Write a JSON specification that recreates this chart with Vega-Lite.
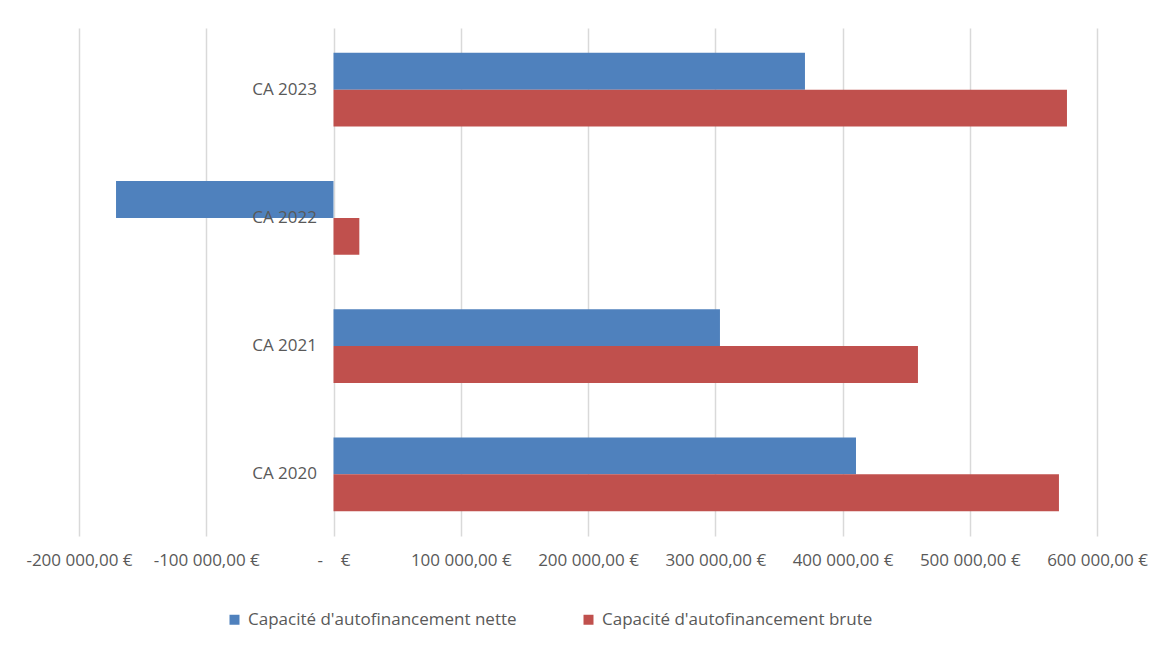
{
  "$schema": "https://vega.github.io/schema/vega-lite/v6.json",
  "autosize": "none",
  "width": 1018,
  "height": 508,
  "padding": {"left": 79, "top": 28, "right": 57, "bottom": 128},
  "background": "white",
  "config": {
    "font": "Open Sans",
    "view": {"stroke": null}
  },
  "data": {
    "values": [
      {"annee": "CA 2023", "serie": "Capacité d'autofinancement nette", "montant": 370500},
      {"annee": "CA 2023", "serie": "Capacité d'autofinancement brute", "montant": 576400},
      {"annee": "CA 2022", "serie": "Capacité d'autofinancement nette", "montant": -170900},
      {"annee": "CA 2022", "serie": "Capacité d'autofinancement brute", "montant": 20300},
      {"annee": "CA 2021", "serie": "Capacité d'autofinancement nette", "montant": 303700},
      {"annee": "CA 2021", "serie": "Capacité d'autofinancement brute", "montant": 459300},
      {"annee": "CA 2020", "serie": "Capacité d'autofinancement nette", "montant": 410600},
      {"annee": "CA 2020", "serie": "Capacité d'autofinancement brute", "montant": 570100}
    ]
  },
  "mark": {"type": "bar"},
  "encoding": {
    "x": {
      "field": "montant",
      "type": "quantitative",
      "scale": {"domain": [-200000, 600000], "nice": false, "zero": false},
      "axis": {
        "title": null,
        "values": [-200000, -100000, 0, 100000, 200000, 300000, 400000, 500000, 600000],
        "labelExpr": "datum.value == 0 ? '-\u00a0\u00a0\u00a0\u00a0€' : (datum.value < 0 ? '-' : '') + replace(replace(format(abs(datum.value), ',.2f'), ',', '\u00a0'), '.', ',') + '\u00a0€'",
        "labelOverlap": false,
        "labelBound": false,
        "labelFlush": false,
        "domain": false,
        "ticks": false,
        "grid": true,
        "gridColor": "#D9D9D9",
        "gridWidth": 1.5,
        "labelColor": "#595959",
        "labelFontSize": 17,
        "labelPadding": 16
      }
    },
    "y": {
      "field": "annee",
      "type": "nominal",
      "sort": ["CA 2023", "CA 2022", "CA 2021", "CA 2020"],
      "scale": {"paddingInner": 0.426, "paddingOuter": 0.194},
      "axis": {
        "title": null,
        "offset": -254.5,
        "domain": false,
        "ticks": false,
        "grid": false,
        "labelColor": "#595959",
        "labelFontSize": 17,
        "labelPadding": 17,
        "zindex": 1
      }
    },
    "yOffset": {
      "field": "serie",
      "type": "nominal",
      "sort": ["Capacité d'autofinancement nette", "Capacité d'autofinancement brute"]
    },
    "color": {
      "field": "serie",
      "type": "nominal",
      "sort": ["Capacité d'autofinancement nette", "Capacité d'autofinancement brute"],
      "scale": {"range": ["#4F81BD", "#C0504D"]},
      "legend": {
        "title": null,
        "orient": "none",
        "legendX": 147,
        "legendY": 583,
        "direction": "horizontal",
        "symbolType": "square",
        "symbolSize": 100,
        "symbolStrokeWidth": 0,
        "labelColor": "#595959",
        "labelFontSize": 17,
        "labelOffset": 5,
        "labelLimit": 400,
        "columnPadding": 63
      }
    }
  }
}
